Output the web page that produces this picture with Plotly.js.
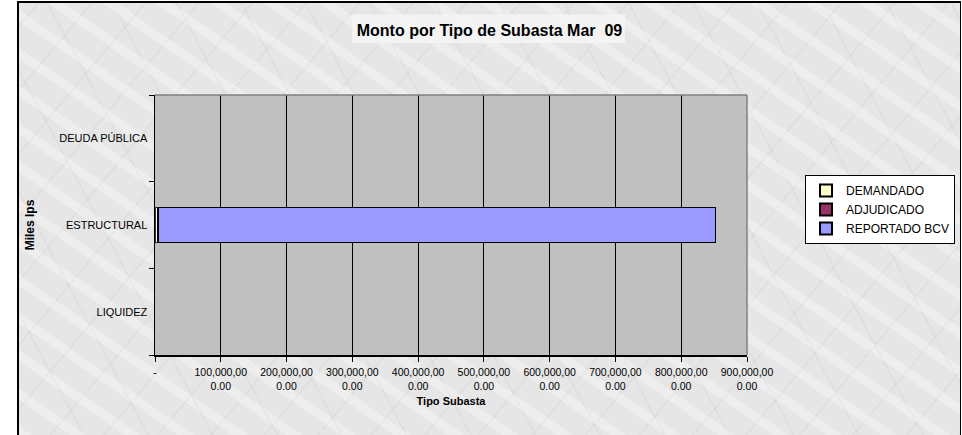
<!DOCTYPE html>
<html>
<head>
<meta charset="utf-8">
<script src="https://cdn.plot.ly/plotly-3.0.1.min.js"></script>
<style>
  html, body { margin: 0; padding: 0; background: #ffffff; }
  #frame {
    position: absolute; left: 17px; top: 1px; width: 941px; height: 434px;
    border-left: 2px solid #000; border-top: 2px solid #000; border-right: 1px solid #000;
    background-color: #e6e6e6;
    background-image:
      repeating-linear-gradient(35deg, rgba(255,255,255,0.30) 0px, rgba(255,255,255,0.30) 9px, rgba(0,0,0,0) 9px, rgba(0,0,0,0) 31px),
      repeating-linear-gradient(-50deg, rgba(140,140,140,0.07) 0px, rgba(140,140,140,0.07) 2px, rgba(0,0,0,0) 2px, rgba(0,0,0,0) 41px),
      repeating-linear-gradient(62deg, rgba(150,150,150,0.08) 0px, rgba(150,150,150,0.08) 2px, rgba(0,0,0,0) 2px, rgba(0,0,0,0) 57px);
  }
  #chart { position: absolute; left: 0; top: 0; width: 941px; height: 434px; }
</style>
</head>
<body>
<div id="frame"><div id="chart"></div></div>
<script>
// Categories (bottom to top as drawn)
const categories = ['LIQUIDEZ', 'ESTRUCTURAL', 'DEUDA PÚBLICA'];
// Series values (Miles Bs)
const demandado   = [null, 4500000, null];
const adjudicado  = [null, 1000000, null];
const reportadoBCV = [null, 846500000, null];
// X tick values and labels
const xTickVals = [0, 100000000, 200000000, 300000000, 400000000, 500000000, 600000000, 700000000, 800000000, 900000000];
const xTickText = ['-', '100,000,00<br>0.00', '200,000,00<br>0.00', '300,000,00<br>0.00', '400,000,00<br>0.00',
                   '500,000,00<br>0.00', '600,000,00<br>0.00', '700,000,00<br>0.00', '800,000,00<br>0.00', '900,000,00<br>0.00'];
const seriesNames = ['DEMANDADO', 'ADJUDICADO', 'REPORTADO BCV'];
const seriesColors = ['#ffffcc', '#993366', '#9999ff'];

const seriesData = [demandado, adjudicado, reportadoBCV];
const traces = seriesData.map((vals, i) => ({
  type: 'bar',
  orientation: 'h',
  name: seriesNames[i],
  y: categories,
  x: vals,
  marker: { color: seriesColors[i], line: { color: '#000000', width: i === 2 ? 1.5 : 0.8 } },
  hoverinfo: 'x+name'
}));

const font = { family: 'Arial, "Liberation Sans", sans-serif', color: '#000000' };

const layout = {
  width: 941,
  height: 434,
  margin: { l: 136, r: 213, t: 92, b: 82, autoexpand: false },
  paper_bgcolor: 'rgba(0,0,0,0)',
  plot_bgcolor: '#c0c0c0',
  barmode: 'stack',
  bargap: 0.6,
  font: Object.assign({ size: 10.5 }, font),
  title: {
    text: '<b>Monto por Tipo de Subasta Mar  09</b>',
    font: Object.assign({}, font, { size: 16 }),
    x: 0.5, xref: 'container', xanchor: 'center',
    y: 1 - 27 / 434, yref: 'container', yanchor: 'middle'
  },
  xaxis: {
    range: [0, 900000000],
    tickvals: xTickVals,
    ticktext: xTickText,
    tickfont: Object.assign({}, font, { size: 10.5 }),
    showgrid: true,
    gridcolor: '#000000',
    gridwidth: 1,
    zeroline: false,
    showline: true,
    linecolor: '#000000',
    linewidth: 1.5,
    ticks: 'outside',
    ticklen: 5,
    tickcolor: '#000000',
    ticklabelstandoff: 2,
    title: { text: '<b>Tipo Subasta</b>', font: Object.assign({}, font, { size: 11 }), standoff: 6 },
    fixedrange: true
  },
  yaxis: {
    type: 'category',
    categoryorder: 'array',
    categoryarray: categories,
    tickson: 'boundaries',
    ticks: 'outside',
    ticklen: 5,
    tickcolor: '#000000',
    tickfont: Object.assign({}, font, { size: 11 }),
    showgrid: false,
    showline: true,
    linecolor: '#000000',
    linewidth: 1.5,
    ticklabelstandoff: 4,
    title: { text: '<b>Miles Ips</b>', font: Object.assign({}, font, { size: 12 }), standoff: 22 },
    fixedrange: true
  },
  legend: {
    x: 1.098, xanchor: 'left',
    y: 0.692, yanchor: 'top',
    bgcolor: '#ffffff',
    bordercolor: '#000000',
    borderwidth: 1,
    font: Object.assign({}, font, { size: 12 }),
    traceorder: 'normal',
    tracegroupgap: 0,
    itemwidth: 30,
    itemsizing: 'constant'
  },
  shapes: [
    { type: 'rect', xref: 'paper', yref: 'paper', x0: 0.333, x1: 0.794, y0: 1.2, y1: 1.31,
      fillcolor: 'rgba(245,245,245,0.85)', line: { width: 0 }, layer: 'below' },
    { type: 'line', xref: 'paper', yref: 'paper', x0: 0, x1: 1, y0: 1, y1: 1,
      line: { color: '#808080', width: 1.5 } },
    { type: 'line', xref: 'paper', yref: 'paper', x0: 1, x1: 1, y0: 0, y1: 1,
      line: { color: '#808080', width: 1.5 } }
  ],
  showlegend: true
};

Plotly.newPlot('chart', traces, layout, { displayModeBar: false, staticPlot: true });
</script>
</body>
</html>
